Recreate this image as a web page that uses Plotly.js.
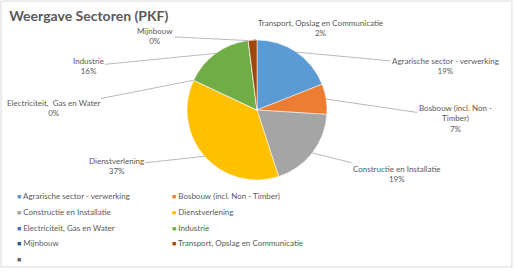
<!DOCTYPE html>
<html><head><meta charset="utf-8">
<script src="https://cdn.plot.ly/plotly-3.0.1.min.js"></script>
<style>html,body{margin:0;padding:0;background:#fff}#c{width:514px;height:271px}</style>
</head><body><div id="c"></div>
<script>
const categories = ["Agrarische sector - verwerking","Bosbouw (incl. Non - Timber)","Constructie en Installatie","Dienstverlening","Electriciteit, Gas en Water","Industrie","Mijnbouw","Transport, Opslag en Communicatie"];
const shares = [19, 7, 19, 37, 0, 16, 0, 2];
const colors = ["#5B9BD5","#ED7D31","#A5A5A5","#FFC000","#4472C4","#70AD47","#255E91","#9E480E"];
const legendLabels = categories.concat([""]);
const legendColors = colors.concat(["#636363"]);
const sliceLabels = ["Agrarische sector - verwerking","Bosbouw (incl. Non -<br>Timber)","Constructie en Installatie","Dienstverlening","Electriciteit,  Gas en Water","Industrie","Mijnbouw","Transport, Opslag en Communicatie"];

// layout geometry (pixels)
const W = 514, H = 271;
const cx = 257, cy = 110, R = 70;
const labelPos = [[445,66],[455,118],[397,174],[116,166],[53,108],[88,66],[155,36],[320,28]];

const trace = {
  type: "pie",
  labels: categories,
  values: shares,
  textinfo: "none",
  sort: false,
  direction: "clockwise",
  rotation: 0,
  marker: {colors: colors, line: {color: "#ffffff", width: 0.5}},
  domain: {x: [(cx-R)/W, (cx+R)/W], y: [1-(cy+R)/H, 1-(cy-R)/H]},
  showlegend: false,
  hoverinfo: "none"
};

const total = shares.reduce((a,b)=>a+b,0);
const annotations = [];
let cum = 0;
shares.forEach((v,i)=>{
  const mid = (cum + v/2)/total*2*Math.PI;
  cum += v;
  const tx = cx + R*Math.sin(mid), ty = cy - R*Math.cos(mid);
  annotations.push({
    xref: "paper", yref: "paper", x: tx/W, y: 1-ty/H,
    ax: labelPos[i][0]-tx, ay: labelPos[i][1]-ty,
    text: sliceLabels[i] + "<br>" + v + "%",
    showarrow: true, arrowhead: 0, arrowwidth: 0.8, arrowcolor: "#a6a6a6",
    font: {size: 8, color: "#595959"}, align: "center"
  });
});
legendLabels.forEach((lab,i)=>{
  const col = i % 2, row = Math.floor(i/2);
  annotations.push({
    xref: "paper", yref: "paper",
    x: (col===0 ? 15 : 170)/W, y: 1-(196 + row*15.8)/H,
    xanchor: "left", yanchor: "middle", showarrow: false,
    text: '<span style="color:' + legendColors[i] + ';font-size:7px">■</span> ' + lab,
    font: {size: 8, color: "#595959"}
  });
});

const layout = {
  width: W, height: H,
  margin: {l: 0, r: 0, t: 0, b: 0},
  paper_bgcolor: "#ffffff",
  font: {family: "Lato, 'Open Sans', sans-serif", color: "#595959"},
  title: {text: "<b>Weergave Sectoren (PKF)</b>", x: 0.018, xanchor: "left", y: 0.941, yanchor: "middle", font: {size: 14, color: "#595959"}},
  showlegend: false,
  annotations: annotations,
  shapes: [{type: "rect", xref: "paper", yref: "paper", x0: 0.002, x1: 0.996, y0: 0.015, y1: 0.996, line: {color: "#d9d9d9", width: 1}}]
};
Plotly.newPlot("c", [trace], layout, {staticPlot: true});
</script></body></html>
